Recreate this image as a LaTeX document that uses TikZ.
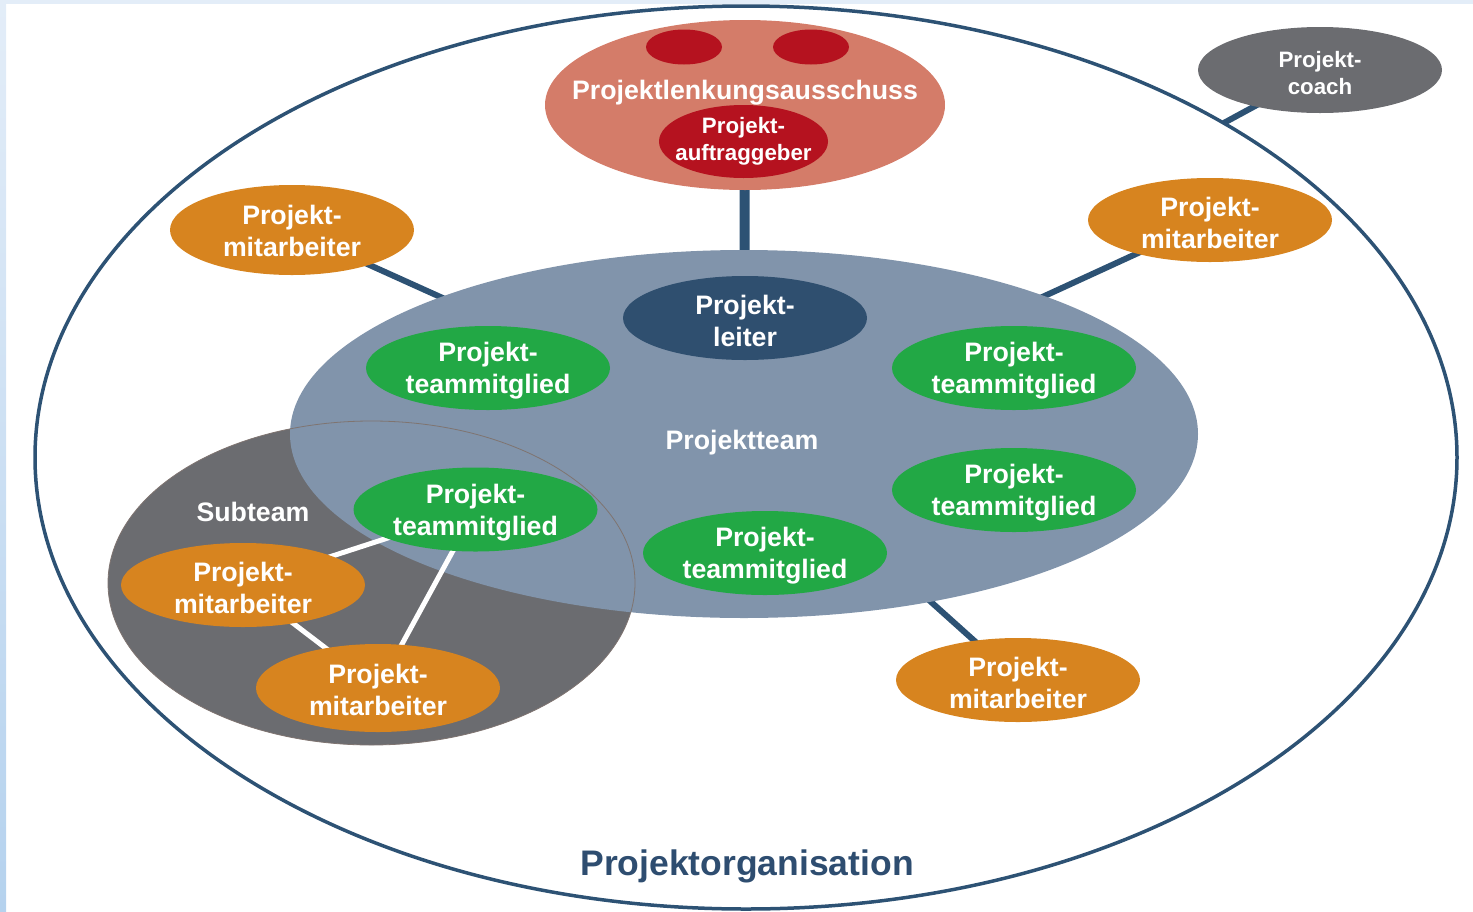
\documentclass[tikz,border=0pt]{standalone}
\usepackage{fontspec}
\setmainfont{Liberation Sans}
\usetikzlibrary{shapes.geometric}

\definecolor{orgblue}{HTML}{2D5274}
\definecolor{orgtext}{HTML}{2E4D70}
\definecolor{framelight}{HTML}{E3EDF8}
\definecolor{framedark}{HTML}{B5D2EE}
\definecolor{steersalmon}{HTML}{D47C69}
\definecolor{sponsorred}{HTML}{B5121F}
\definecolor{leadnavy}{HTML}{2F4F6F}
\definecolor{teamslate}{HTML}{8194AB}
\definecolor{subgray}{HTML}{6B6C70}
\definecolor{subrim}{HTML}{7F7470}
\definecolor{teamgreen}{HTML}{22A845}
\definecolor{stafforange}{HTML}{D7841F}

\pgfdeclarelayer{under}
\pgfdeclarelayer{bg}
\pgfdeclarelayer{links}
\pgfsetlayers{under,bg,links,main}

\begin{document}
\begin{tikzpicture}[x=1pt,y=-1pt,
  blob/.style={ellipse, inner sep=0pt, outer sep=0pt, minimum width=244pt, minimum height=84pt},
  member/.style={blob, fill=teamgreen},
  staff/.style={blob, fill=stafforange},
  lbl/.style={text=white, font=\fontsize{26.7}{32}\selectfont\bfseries, align=center, inner sep=0pt, yshift=-3pt},
  smalllbl/.style={text=white, font=\fontsize{22.3}{27}\selectfont\bfseries, align=center, inner sep=0pt, yshift=-2pt},
  tie/.style={draw=orgblue, line width=6pt, shorten <=-8pt, shorten >=-8pt},
  whitetie/.style={draw=white, line width=5pt, shorten <=-8pt, shorten >=-8pt}]

\useasboundingbox (0,0) rectangle (1473,911);

% page frame
\fill[framelight] (0,0) rectangle (1473,4);
\shade[top color=framelight, bottom color=framedark] (0,0) rectangle (6,911);

% large areas
\begin{pgfonlayer}{bg}
  \node[ellipse, draw=orgblue, line width=3.5pt, inner sep=0pt, outer sep=0pt,
        minimum width=1422pt, minimum height=903pt] (org) at (746,457.5) {};
  \node[ellipse, fill=subgray, inner sep=0pt, outer sep=0pt,
        minimum width=527pt, minimum height=324pt] (sub) at (371.5,583) {};
  \node[ellipse, fill=teamslate, inner sep=0pt, outer sep=0pt,
        minimum width=908pt, minimum height=368pt] (pt) at (744,434) {};
  \node[ellipse, draw=subrim, line width=0.8pt, inner sep=0pt, outer sep=0pt,
        minimum width=527pt, minimum height=324pt] (subrim) at (371.5,583) {};
\end{pgfonlayer}

% steering committee
\node[ellipse, fill=steersalmon, inner sep=0pt, minimum width=400pt, minimum height=170pt] (pla) at (745,105) {};
\node[ellipse, fill=sponsorred, inner sep=0pt, minimum width=76pt, minimum height=35pt] (dotl) at (684,47) {};
\node[ellipse, fill=sponsorred, inner sep=0pt, minimum width=76pt, minimum height=35pt] (dotr) at (811,47) {};
\node[lbl] (plat) at (745,90) {Projektlenkungsausschuss};
\node[ellipse, fill=sponsorred, inner sep=0pt, minimum width=169pt, minimum height=73pt] (pa) at (743.5,141.5) {};
\node[smalllbl] (pat) at (743.5,139) {Projekt-\\auftraggeber};

% coach
\node[blob, fill=subgray, minimum height=86pt] (coach) at (1320,70) {};
\node[smalllbl] (coacht) at (1320,71) {Projekt-\\coach};

% project team
\node[blob, fill=leadnavy] (pl) at (745,318) {};
\node[lbl] (plt) at (745,318) {Projekt-\\leiter};
\node[lbl] (ptt) at (742,440) {Projektteam};

\node[member] (m1) at (488,368) {};
\node[lbl] (m1t) at (488,368) {Projekt-\\teammitglied};
\node[member] (m2) at (1014,368) {};
\node[lbl] (m2t) at (1014,368) {Projekt-\\teammitglied};
\node[member] (m3) at (1014,490) {};
\node[lbl] (m3t) at (1014,490) {Projekt-\\teammitglied};
\node[member] (m4) at (765,553) {};
\node[lbl] (m4t) at (765,553) {Projekt-\\teammitglied};
\node[member] (m5) at (475.5,509.5) {};
\node[lbl] (m5t) at (475.5,509.5) {Projekt-\\teammitglied};

% staff members
\node[staff, minimum height=90pt] (s1) at (292,230) {};
\node[lbl] (s1t) at (292,228) {Projekt-\\mitarbeiter};
\node[staff] (s2) at (1210,220) {};
\node[lbl] (s2t) at (1210,220) {Projekt-\\mitarbeiter};
\node[staff] (s3) at (1018,680) {};
\node[lbl] (s3t) at (1018,680) {Projekt-\\mitarbeiter};
\node[staff] (s4) at (243,585) {};
\node[lbl] (s4t) at (243,585) {Projekt-\\mitarbeiter};
\node[staff, minimum height=88pt] (s5) at (378,688) {};
\node[lbl] (s5t) at (378,687) {Projekt-\\mitarbeiter};

\node[lbl] (subt) at (253,509) {Subteam};
\node[inner sep=0pt, font=\fontsize{35.5}{40}\selectfont\bfseries, text=orgtext] (orgt) at (747,866) {Projektorganisation};

% connectors
\begin{pgfonlayer}{under}
  \draw[tie, line width=10pt] (pla) -- (pt);
  \draw[tie] (s1) -- (pt);
  \draw[tie] (s2) -- (pt);
  \draw[tie] (s3) -- (pt);
  \draw[tie, shorten >=0pt] (coach.209) -- (org.35);
\end{pgfonlayer}
\begin{pgfonlayer}{links}
  \draw[whitetie] (s4) -- (m5);
  \draw[whitetie] (s4) -- (s5);
  \draw[whitetie] (s5) -- (m5);
\end{pgfonlayer}
\end{tikzpicture}
\end{document}
